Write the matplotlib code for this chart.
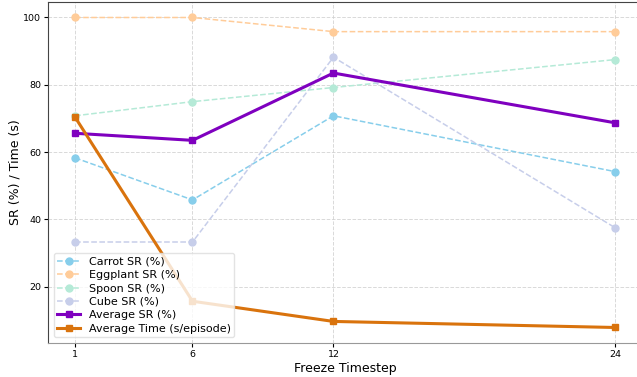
import matplotlib
matplotlib.use("Agg")
import matplotlib.pyplot as plt

timesteps = [1, 6, 12, 24]
carrot_sr = [58.3, 45.8, 70.8, 54.2]
eggplant_sr = [100.0, 100.0, 95.8, 95.8]
spoon_sr = [70.8, 75.0, 79.2, 87.5]
cube_sr = [33.3, 33.3, 88.2, 37.5]
avg_sr = [65.6, 63.5, 83.5, 68.7]
avg_time = [70.4, 15.7, 9.7, 7.9]

fig = plt.figure(figsize=(6.37, 3.77), dpi=100)
ax = fig.add_axes([0.0754, 0.0902, 0.933, 0.9045])

# per-object success rates, light dashed
objects = [
    ("Carrot SR (%)", carrot_sr, "#87ceeb"),
    ("Eggplant SR (%)", eggplant_sr, "#ffcc99"),
    ("Spoon SR (%)", spoon_sr, "#b5ead7"),
    ("Cube SR (%)", cube_sr, "#c7ceea"),
]
for label, vals, color in objects:
    ax.plot(timesteps, vals, linestyle="--", marker="o", color=color,
            linewidth=1.1, markersize=5, label=label)

# averages, bold
ax.plot(timesteps, avg_sr, marker="s", color="#7f00bf", linewidth=2.2,
        markersize=5, label="Average SR (%)")
ax.plot(timesteps, avg_time, marker="s", color="#d9730d", linewidth=2.2,
        markersize=5, label="Average Time (s/episode)")

ax.set_xticks(timesteps)
ax.set_xlabel("Freeze Timestep", fontsize=9, labelpad=2)
ax.set_ylabel("SR (%) / Time (s)", fontsize=9, labelpad=1)
ax.tick_params(labelsize=6.8, length=3, pad=2)
ax.grid(True, linestyle="--", color="#d0d0d0", linewidth=0.7, alpha=0.8)

for side in ["left", "top"]:
    ax.spines[side].set_color("#444444")
ax.spines["bottom"].set_color("#999999")

ax.legend(loc="lower left", fontsize=8, framealpha=0.8, edgecolor="#dddddd",
          handlelength=2.0, labelspacing=0.3, borderpad=0.35)

fig.savefig("out.png", dpi=100)
